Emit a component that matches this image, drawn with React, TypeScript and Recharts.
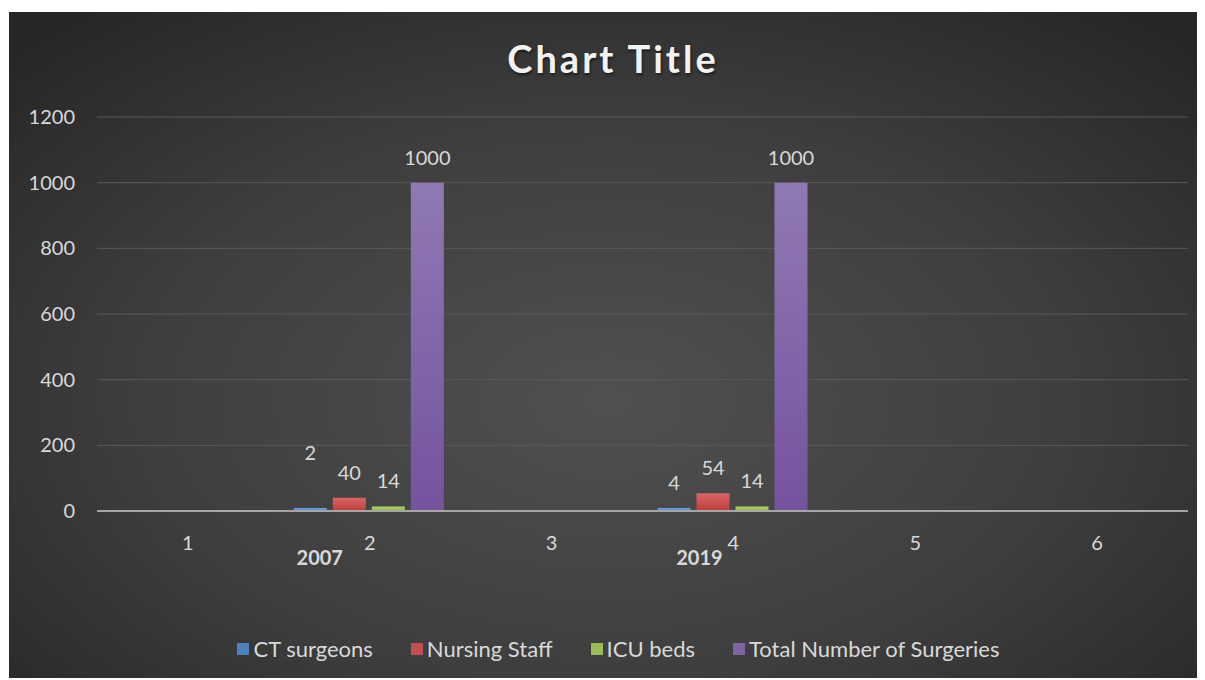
import React from 'react';
import { BarChart, Bar, XAxis, YAxis, CartesianGrid, Legend, LabelList } from 'recharts';

const categories = ['1', '2', '3', '4', '5', '6'];
const groupLabels = ['', '2007', '', '2019', '', ''];
const ctSurgeons = [null, 2, null, 4, null, null];
const nursingStaff = [null, 40, null, 54, null, null];
const icuBeds = [null, 14, null, 14, null, null];
const totalSurgeries = [null, 1000, null, 1000, null, null];
const yTicks = [0, 200, 400, 600, 800, 1000, 1200];

const series = [
  { key: 'ct', name: 'CT surgeons', top: '#6fa8de', bottom: '#4a7fc0', icon: '#4f81bd' },
  { key: 'nursing', name: 'Nursing Staff', top: '#d86664', bottom: '#bd3e3b', icon: '#c0504d' },
  { key: 'icu', name: 'ICU beds', top: '#aed36a', bottom: '#8fb84a', icon: '#9bbb59' },
  { key: 'total', name: 'Total Number of Surgeries', top: '#9079b3', bottom: '#74539e', icon: '#8064a2' },
];

const data = categories.map((cat, i) => ({
  cat,
  ct: ctSurgeons[i],
  nursing: nursingStaff[i],
  icu: icuBeds[i],
  total: totalSurgeries[i],
}));

const FONT = 'Lato, "Noto Sans", sans-serif';
const TEXT = '#d9d9d9';

// Excel-style two-level axis: the number, and the year a bit lower and to the left
const groupShift = [0, -50, 0, -34, 0, 0];

const CategoryTick = (props: any) => {
  const { x, y, payload, index } = props;
  const i = payload?.index ?? index;
  const group = groupLabels[i];
  return (
    <g>
      <text x={x} y={y + 39} textAnchor="middle" fill={TEXT} fontSize={20} fontFamily={FONT}>
        {payload.value}
      </text>
      {group ? (
        <text x={x + groupShift[i]} y={y + 54} textAnchor="middle" fill={TEXT} fontSize={20} fontWeight="bold" fontFamily={FONT}>
          {group}
        </text>
      ) : null}
    </g>
  );
};

// the first CT label was dragged up by hand in the original
const makeLabel = (seriesKey: string) => (props: any) => {
  const { x, y, width, value, index } = props;
  if (value == null) return null;
  const lift = seriesKey === 'ct' && index === 0 ? 30 : 0;
  return (
    <text x={x + width / 2} y={y - 18 - lift} textAnchor="middle" fill={TEXT} fontSize={20} fontFamily={FONT}>
      {value}
    </text>
  );
};

const LegendContent = () => (
  <div style={{ display: 'flex', justifyContent: 'center', paddingLeft: 40, height: 30, lineHeight: '30px', fontFamily: FONT, fontSize: 22, color: TEXT }}>
    {series.map((s) => (
      <div key={s.key} style={{ display: 'flex', alignItems: 'center', margin: '0 19px' }}>
        <span style={{ width: 12, height: 12, background: s.icon, marginRight: 4, display: 'inline-block' }} />
        <span>{s.name}</span>
      </div>
    ))}
  </div>
);

export default function App() {
  return (
    <div
      style={{
        position: 'relative',
        left: 1,
        top: 4,
        width: 1196,
        height: 670,
        background: 'radial-gradient(ellipse 70% 75% at 50% 58%, #505050 0%, #3e3e3e 55%, #262626 100%)',
      }}
    >
      <style>{'body { overflow: hidden; }'}</style>
      <div
        style={{
          position: 'absolute',
          top: 23,
          left: 6,
          width: '100%',
          textAlign: 'center',
          fontFamily: FONT,
          fontWeight: 'bold',
          fontSize: 38,
          letterSpacing: 3,
          color: '#f2f2f2',
          textShadow: '1px 2px 3px rgba(0,0,0,0.5)',
        }}
      >
        Chart Title
      </div>
      <BarChart
        width={1196}
        height={670}
        data={data}
        margin={{ top: 105, right: 17, left: 0, bottom: 18 }}
        barCategoryGap={15}
        barGap={6}
      >
        <defs>
          {series.map((s) => (
            <linearGradient key={s.key} id={`grad-${s.key}`} x1="0" y1="0" x2="0" y2="1">
              <stop offset="0%" stopColor={s.top} />
              <stop offset="100%" stopColor={s.bottom} />
            </linearGradient>
          ))}
        </defs>
        <CartesianGrid vertical={false} stroke="#595959" strokeWidth={1} />
        <XAxis
          dataKey="cat"
          height={123}
          tickLine={false}
          axisLine={{ stroke: '#a6a6a6', strokeWidth: 2 }}
          tickSize={0}
          tickMargin={0}
          interval={0}
          tick={<CategoryTick />}
        />
        <YAxis
          width={88}
          domain={[0, 1200]}
          ticks={yTicks}
          axisLine={false}
          tickLine={false}
          tickSize={0}
          tickMargin={22}
          tick={{ fill: TEXT, fontSize: 20, fontFamily: FONT }}
        />
        <Legend verticalAlign="bottom" content={<LegendContent />} />
        {series.map((s) => (
          <Bar
            key={s.key}
            dataKey={s.key}
            name={s.name}
            fill={`url(#grad-${s.key})`}
            minPointSize={s.key === 'ct' ? 3 : 0}
            isAnimationActive={false}
          >
            <LabelList dataKey={s.key} content={makeLabel(s.key)} />
          </Bar>
        ))}
      </BarChart>
    </div>
  );
}
